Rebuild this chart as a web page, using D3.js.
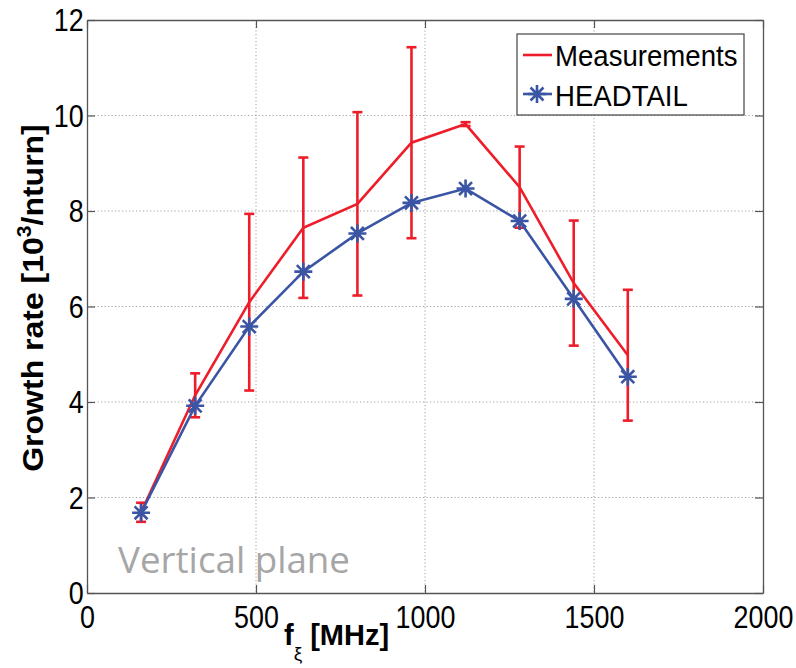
<!DOCTYPE html>
<html><head><meta charset="utf-8">
<script src="https://cdn.jsdelivr.net/npm/d3@7"></script>
<style>body{margin:0;background:#fff;} svg{display:block;}</style>
</head><body><svg id="c" width="796" height="668"></svg>
<script>
const freqs = [160, 320, 480, 640, 800, 960, 1120, 1280, 1440, 1600];
const measured = [1.69, 4.14, 6.09, 7.65, 8.15, 9.43, 9.82, 8.50, 6.49, 4.98];
const measuredErr = [0.20, 0.46, 1.85, 1.47, 1.92, 2.00, 0.04, 0.85, 1.31, 1.37];
const headtail = [1.68, 3.92, 5.58, 6.73, 7.53, 8.17, 8.47, 7.79, 6.16, 4.53];
const xTicks = [0, 500, 1000, 1500, 2000];
const yTicks = [0, 2, 4, 6, 8, 10, 12];
const seriesNames = ["Measurements", "HEADTAIL"];
const RED = "#ee1d2a", BLUE = "#3b55a5";

const svg = d3.select("#c");
const m = {l: 87, r: 763, t: 20, b: 593};
const x = d3.scaleLinear().domain([0, 2000]).range([m.l, m.r]);
const y = d3.scaleLinear().domain([0, 12]).range([m.b, m.t]);
const fmt = d3.format("d");

// grid
const grid = svg.append("g");
grid.selectAll(".gx").data(xTicks.slice(1, -1)).join("line")
  .attr("x1", d => x(d)).attr("x2", d => x(d)).attr("y1", m.t).attr("y2", m.b)
  .attr("stroke", "#a0a0a0").attr("stroke-width", 1).attr("stroke-dasharray", "1.2,2.3");
grid.selectAll(".gy").data(yTicks.slice(1, -1)).join("line")
  .attr("y1", d => y(d)).attr("y2", d => y(d)).attr("x1", m.l).attr("x2", m.r)
  .attr("stroke", "#a0a0a0").attr("stroke-width", 1).attr("stroke-dasharray", "1.2,2.3");

// axes
const axStyle = g => {
  g.select(".domain").attr("stroke", "#555").attr("stroke-width", 1.3);
  g.selectAll(".tick line").attr("stroke", "#555").attr("stroke-width", 1.2);
};
svg.append("g").attr("transform", `translate(0,${m.b})`)
  .call(d3.axisBottom(x).tickValues(xTicks).tickFormat(fmt).tickSize(-8).tickSizeOuter(0).tickPadding(12))
  .call(axStyle)
  .call(g => g.selectAll("text").attr("font-family", "Liberation Sans, Arial, sans-serif")
    .attr("font-size", 32).attr("fill", "#000").attr("dy", "0.71em").attr("y", 12)
    .attr("transform", "scale(0.84,1)"));
svg.append("g").attr("transform", `translate(0,${m.t})`)
  .call(d3.axisTop(x).tickValues(xTicks).tickSize(-8).tickSizeOuter(0).tickFormat(""))
  .call(axStyle);
svg.append("g").attr("transform", `translate(${m.l},0)`)
  .call(d3.axisLeft(y).tickValues(yTicks).tickFormat(fmt).tickSize(-8).tickSizeOuter(0).tickPadding(4))
  .call(axStyle)
  .call(g => g.selectAll("text").attr("font-family", "Liberation Sans, Arial, sans-serif")
    .attr("font-size", 32).attr("fill", "#000").attr("x", -4).attr("dy", "0.34em")
    .attr("transform", "scale(0.84,1)"));
svg.append("g").attr("transform", `translate(${m.r},0)`)
  .call(d3.axisRight(y).tickValues(yTicks).tickSize(-8).tickSizeOuter(0).tickFormat(""))
  .call(axStyle);

// error bars (measurements)
const eb = svg.append("g").attr("stroke", RED).attr("stroke-width", 2.6).attr("fill", "none");
freqs.forEach((f, i) => {
  const cx = x(f), y1 = y(measured[i] + measuredErr[i]), y0 = y(measured[i] - measuredErr[i]);
  eb.append("line").attr("x1", cx).attr("x2", cx).attr("y1", y1).attr("y2", y0);
  eb.append("line").attr("x1", cx - 5).attr("x2", cx + 5).attr("y1", y1).attr("y2", y1);
  eb.append("line").attr("x1", cx - 5).attr("x2", cx + 5).attr("y1", y0).attr("y2", y0);
});
const line = d3.line().x(d => x(d[0])).y(d => y(d[1]));
svg.append("path").datum(freqs.map((f, i) => [f, measured[i]]))
  .attr("d", line).attr("fill", "none").attr("stroke", RED).attr("stroke-width", 2.6);

// HEADTAIL
svg.append("path").datum(freqs.map((f, i) => [f, headtail[i]]))
  .attr("d", line).attr("fill", "none").attr("stroke", BLUE).attr("stroke-width", 2.6);
const star = (r) => {
  const d = r * 0.72;
  return `M${-r},0H${r}M0,${-r}V${r}M${-d},${-d}L${d},${d}M${-d},${d}L${d},${-d}`;
};
svg.append("g").selectAll("path").data(freqs.map((f, i) => [f, headtail[i]])).join("path")
  .attr("transform", d => `translate(${x(d[0])},${y(d[1])})`)
  .attr("d", star(9)).attr("stroke", BLUE).attr("stroke-width", 2.6).attr("fill", "none");

// legend
const lg = svg.append("g");
lg.append("rect").attr("x", 517).attr("y", 34).attr("width", 227).attr("height", 81)
  .attr("fill", "#fff").attr("stroke", "#444").attr("stroke-width", 1.2);
lg.append("line").attr("x1", 523).attr("x2", 552).attr("y1", 55).attr("y2", 55)
  .attr("stroke", RED).attr("stroke-width", 2.6);
lg.append("line").attr("x1", 523).attr("x2", 552).attr("y1", 94).attr("y2", 94)
  .attr("stroke", BLUE).attr("stroke-width", 2.6);
lg.append("path").attr("transform", "translate(537,94)").attr("d", star(9))
  .attr("stroke", BLUE).attr("stroke-width", 2.6).attr("fill", "none");
seriesNames.forEach((n, i) => {
  lg.append("text").attr("transform", `translate(555,${[66, 106][i]}) scale(0.92,1)`)
    .attr("font-family", "Liberation Sans, Arial, sans-serif").attr("font-size", 30)
    .attr("fill", "#000").text(n);
});

// axis titles
const yl = svg.append("text").attr("transform", "translate(43,298) rotate(-90) scale(1,0.92)")
  .attr("text-anchor", "middle").attr("font-family", "Liberation Sans, Arial, sans-serif")
  .attr("font-weight", "bold").attr("font-size", 32).attr("fill", "#000");
yl.append("tspan").text("Growth rate [10");
yl.append("tspan").attr("font-size", 21).attr("dy", -13).text("3");
yl.append("tspan").attr("dy", 13).text("/nturn]");

const xl = svg.append("text").attr("x", 284).attr("y", 645)
  .attr("font-family", "Liberation Sans, Arial, sans-serif")
  .attr("font-weight", "bold").attr("font-size", 29).attr("fill", "#000");
xl.append("tspan").text("f");
xl.append("tspan").attr("font-size", 19).attr("font-weight", "normal").attr("dy", 15).text("ξ");
xl.append("tspan").attr("dy", -15).attr("dx", 8).text("[MHz]");

// annotation
svg.append("text").attr("x", 118).attr("y", 573)
  .attr("font-family", "Open Sans, sans-serif").attr("font-size", 36)
  .attr("fill", "#a6a6a6").attr("textLength", 232).attr("lengthAdjust", "spacingAndGlyphs")
  .text("Vertical plane");
</script></body></html>
